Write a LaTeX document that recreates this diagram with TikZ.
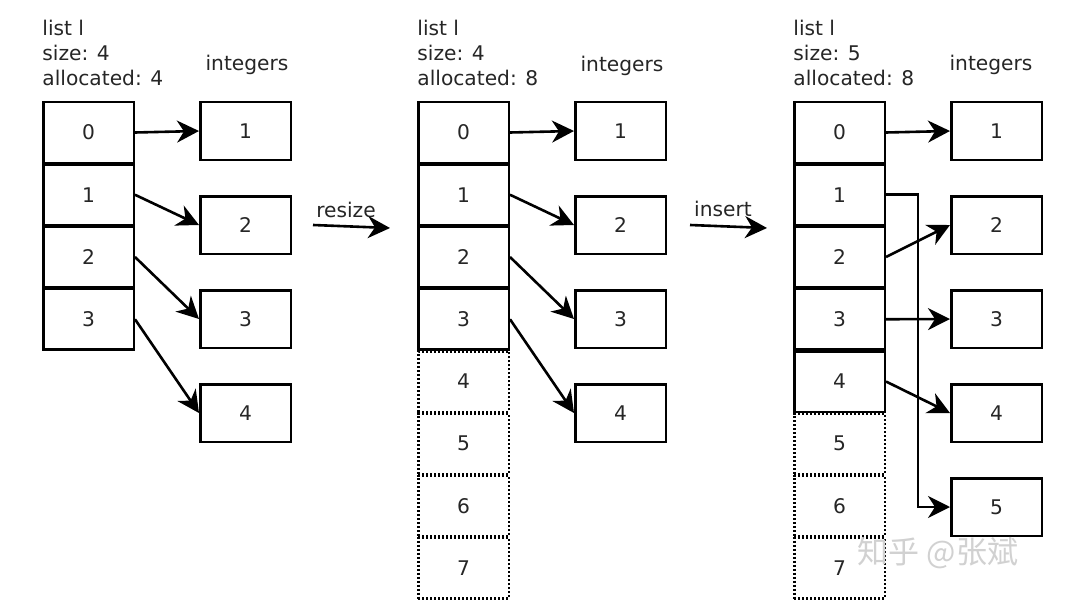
\documentclass[tikz,border=0pt]{standalone}
\usepackage{fontspec}
\setmainfont{DejaVu Sans}
\newfontfamily\cjk{Noto Sans CJK SC}
\usetikzlibrary{arrows.meta}
\begin{document}
\begin{tikzpicture}[x=0.5pt,y=-0.5pt,
  every node/.style={font=\fontsize{10.1}{12}\selectfont, text=black!85},
  cell/.style={draw=black, line width=1.25pt, minimum width=45.25pt, minimum height=30.25pt, inner sep=0pt},
  freecell/.style={cell, dash pattern=on 1pt off 1pt},
  intbox/.style={draw=black, line width=1.25pt, minimum width=45.25pt, minimum height=28.75pt, inner sep=0pt},
  lbl/.style={anchor=base west, inner sep=0pt},
  conn/.style={-{Stealth[length=11pt,width=11pt,inset=3.5pt]}, line width=1.3pt}]
\useasboundingbox (0,0) rectangle (1080,615);
\fill[white] (0,0) rectangle (1080,615);

% ---------- panel a ----------
\node[lbl] (aT1) at (42,36) {list l};
\node[lbl] (aT2) at (42,61) {size: 4};
\node[lbl] (aT3) at (42,86) {allocated: 4};
\node[anchor=base, inner sep=0pt] (aI) at (247,71) {integers};
\foreach \k in {0,...,3} \node[cell] (ac\k) at (88.5,{132.5+62.25*\k}) {\k};
\foreach \k [evaluate=\k as \v using int(\k+1)] in {0,...,3} \node[intbox] (ai\k) at (245.5,{131+94*\k}) {\v};
\foreach \k in {0,...,3} \draw[conn] (ac\k.east) -- (ai\k.west);

% resize arrow
\coordinate (rs) at (313,225);
\coordinate (re) at (390,228);
\draw[conn] (rs) -- (re);
\node (rl) at (346,210) {resize};

% ---------- panel b ----------
\node[lbl] (bT1) at (417,36) {list l};
\node[lbl] (bT2) at (417,61) {size: 4};
\node[lbl] (bT3) at (417,86) {allocated: 8};
\node[anchor=base, inner sep=0pt] (bI) at (622,72) {integers};
\foreach \k in {0,...,3} \node[cell] (bc\k) at (463.5,{132.5+62.25*\k}) {\k};
\foreach \k in {4,...,7} \node[freecell] (bc\k) at (463.5,{132.5+62.25*\k}) {\k};
\foreach \k [evaluate=\k as \v using int(\k+1)] in {0,...,3} \node[intbox] (bi\k) at (620.5,{131+94*\k}) {\v};
\foreach \k in {0,...,3} \draw[conn] (bc\k.east) -- (bi\k.west);

% insert arrow
\coordinate (is) at (690,225);
\coordinate (ie) at (767,228);
\draw[conn] (is) -- (ie);
\node (il) at (723,209) {insert};

% ---------- panel c ----------
\node[lbl] (cT1) at (793,36) {list l};
\node[lbl] (cT2) at (793,61) {size: 5};
\node[lbl] (cT3) at (793,86) {allocated: 8};
\node[anchor=base, inner sep=0pt] (cI) at (991,71) {integers};
\foreach \k in {0,...,4} \node[cell] (cc\k) at (839.5,{132.5+62.25*\k}) {\k};
\foreach \k in {5,...,7} \node[freecell] (cc\k) at (839.5,{132.5+62.25*\k}) {\k};
\foreach \k [evaluate=\k as \v using int(\k+1)] in {0,...,4} \node[intbox] (ci\k) at (996.5,{131+94*\k}) {\v};
\draw[conn] (cc0.east) -- (ci0.west);
\draw[conn] (cc1.east) -- ++(32,0) |- (ci4.west);
\draw[conn] (cc2.east) -- (ci1.west);
\draw[conn] (cc3.east) -- (ci2.west);
\draw[conn] (cc4.east) -- (ci3.west);

% watermark
\node[text=black!18, font=\cjk\fontsize{15.5}{16}\selectfont, inner sep=0pt] (wm) at (938,553) {知乎 @张斌};
\end{tikzpicture}
\end{document}
